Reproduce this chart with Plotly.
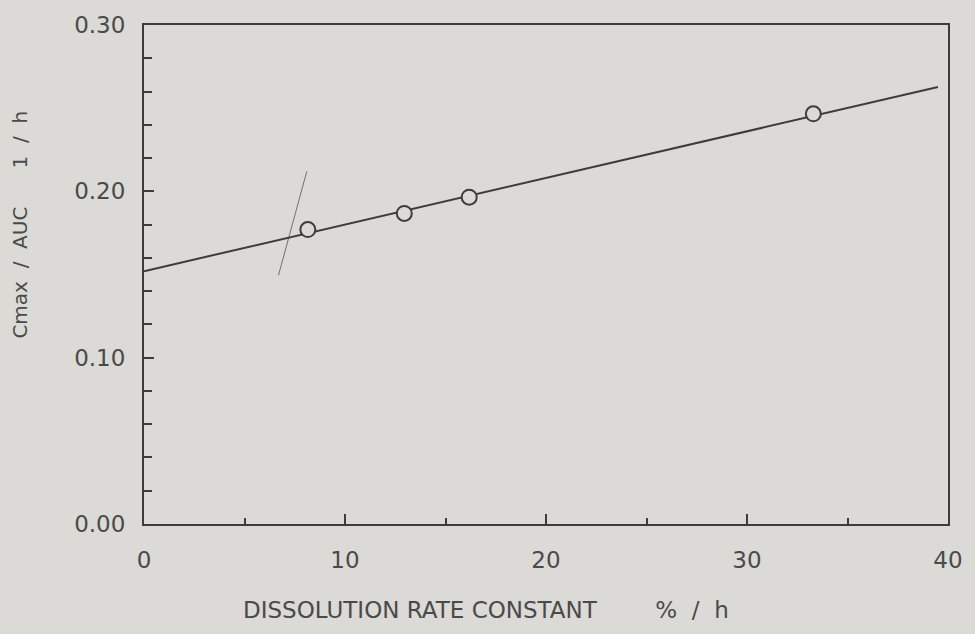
import plotly.graph_objects as go

# Data
rate_constant = [8.15, 12.95, 16.18, 33.3]          # % / h
cmax_auc = [0.177, 0.1867, 0.1965, 0.2466]           # 1 / h

fit_x = [0.0, 39.5]
fit_y = [0.152, 0.2627]

# faint hand-drawn crossing stroke near the first point
stroke_x = [6.69, 8.10]
stroke_y = [0.1495, 0.212]

x_ticks = [0, 10, 20, 30, 40]
y_ticks = [0.00, 0.10, 0.20, 0.30]
y_tick_text = ["0.00", "0.10", "0.20", "0.30"]

BG = "#dbdad6"
INK = "#3c3c3c"
TXT = "#4a4a4a"
FONT = "DejaVu Sans"

fig = go.Figure()
fig.add_trace(go.Scatter(x=stroke_x, y=stroke_y, mode="lines",
                         line=dict(color="#707070", width=1), hoverinfo="skip"))
fig.add_trace(go.Scatter(x=fit_x, y=fit_y, mode="lines",
                         line=dict(color=INK, width=2)))
fig.add_trace(go.Scatter(x=rate_constant, y=cmax_auc, mode="markers",
                         marker=dict(symbol="circle", size=15, color=BG,
                                     line=dict(color=INK, width=2))))

axis_common = dict(showgrid=False, zeroline=False, showline=True, linecolor=INK,
                   linewidth=2, mirror=True, ticks="inside", tickcolor=INK,
                   tickwidth=1.5, tickfont=dict(family=FONT, size=23, color=TXT))

fig.update_layout(
    width=975, height=634,
    margin=dict(l=144, r=25, t=14, b=110),
    paper_bgcolor=BG, plot_bgcolor=BG,
    showlegend=False,
    xaxis=dict(range=[0, 40], tickvals=x_ticks, ticklen=10,
               minor=dict(dtick=5, ticks="inside", ticklen=6, tickcolor=INK, tickwidth=1.5),
               ticklabelstandoff=14, **axis_common),
    yaxis=dict(range=[0, 0.30], tickvals=y_ticks, ticktext=y_tick_text, ticklen=10,
               minor=dict(dtick=0.02, ticks="inside", ticklen=8, tickcolor=INK, tickwidth=1.5),
               ticklabelstandoff=12, **axis_common),
    annotations=[
        dict(text="DISSOLUTION RATE CONSTANT        %  /  h", xref="paper", yref="paper",
             x=0.425, y=0, yshift=-86, xanchor="center", yanchor="middle", showarrow=False,
             font=dict(family=FONT, size=23, color=TXT)),
        dict(text="Cmax  /  AUC      1  /  h", xref="paper", yref="paper",
             x=0, xshift=-124, y=0.6, xanchor="center", yanchor="middle", textangle=-90,
             showarrow=False, font=dict(family=FONT, size=20, color=TXT)),
    ],
)

fig.write_html("out.html")
